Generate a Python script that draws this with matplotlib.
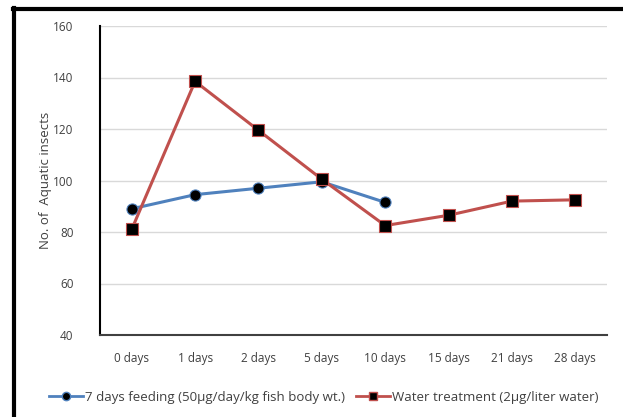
import matplotlib.pyplot as plt
from matplotlib.lines import Line2D

days = ['0 days', '1 days', '2 days', '5 days', '10 days', '15 days',
        '21 days', '28 days']
feeding = [89, 94.5, 97, 99.5, 91.5]
water = [81, 138.5, 119.5, 100.5, 82.5, 86.5, 92, 92.5]

feeding_label = '7 days feeding (50\u00b5g/day/kg fish body wt.)'
water_label = 'Water treatment (2\u00b5g/liter water)'

plt.rcParams['font.family'] = ['Open Sans', 'DejaVu Sans']

fig = plt.figure(figsize=(6.23, 4.17), dpi=100)
ax = fig.add_axes([100 / 623, 1 - 335 / 417, 507 / 623, 309 / 417])

x = list(range(len(days)))
ax.plot(x[:len(feeding)], feeding, color='#4F81BD', lw=2.2,
        marker='o', ms=8, mfc='black', mec='#4F81BD', mew=0.8, zorder=3)
ax.plot(x, water, color='#C0504D', lw=2.2,
        marker='s', ms=8.5, mfc='black', mec='#C0504D', mew=0.8, zorder=4)

ax.set_xlim(-0.5, len(days) - 0.5)
ax.set_ylim(40, 160)
ax.set_yticks(range(40, 161, 20))
ax.set_xticks(x)
ax.set_xticklabels(days)
ax.tick_params(length=0, labelsize=8.5, colors='#404040', pad=12)
ax.tick_params(axis='y', pad=19)
ax.grid(axis='y', color='#d9d9d9', lw=1)
ax.set_axisbelow(True)
for s in ['top', 'right']:
    ax.spines[s].set_visible(False)
ax.spines['left'].set_color('black')
ax.spines['left'].set_linewidth(1.5)
ax.spines['bottom'].set_color('#404040')
ax.spines['bottom'].set_linewidth(1.5)
ax.set_ylabel('No. of  Aquatic insects', fontsize=9.5, color='#404040')
ax.yaxis.set_label_coords(-48 / 507, 0.5)

handles = [
    Line2D([], [], color='#4F81BD', lw=2, marker='o', ms=6, mfc='black',
           mec='#4F81BD'),
    Line2D([], [], color='#C0504D', lw=2, marker='s', ms=6, mfc='black',
           mec='#C0504D'),
]
fig.legend(handles, [feeding_label, water_label], loc='center',
           bbox_to_anchor=(324 / 623, 1 - 397 / 417), ncol=2, frameon=False,
           fontsize=9.5, handlelength=2.6, handletextpad=0.15,
           columnspacing=0.8, labelcolor='#404040')

# outer frame (top and left edges only are visible)
fig.add_artist(Line2D([13 / 623, 1], [1 - 9 / 417, 1 - 9 / 417],
                      color='black', lw=3, transform=fig.transFigure))
fig.add_artist(Line2D([14 / 623, 14 / 623], [0, 1 - 8 / 417],
                      color='black', lw=3, transform=fig.transFigure))

fig.savefig('out.png', dpi=100)
